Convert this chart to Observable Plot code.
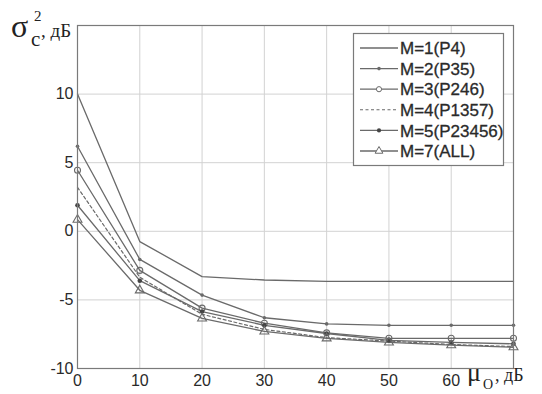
<!DOCTYPE html>
<html>
<head>
<meta charset="utf-8">
<script src="https://cdn.jsdelivr.net/npm/d3@7"></script>
<script src="https://cdn.jsdelivr.net/npm/@observablehq/plot@0.6"></script>
<style>
  html, body { margin: 0; padding: 0; background: #fff; }
  #chart svg { display: block; }
</style>
</head>
<body>
<div id="chart"></div>
<script>
// ---- data ----
const xValues = [0, 10, 20, 30, 40, 50, 60, 70];
const seriesNames = ["M=1(P4)", "M=2(P35)", "M=3(P246)", "M=4(P1357)", "M=5(P23456)", "M=7(ALL)"];
const m1 = [10, -0.75, -3.3, -3.55, -3.65, -3.65, -3.65, -3.65];
const m2 = [6.2, -2.05, -4.65, -6.3, -6.75, -6.85, -6.85, -6.85];
const m3 = [4.45, -2.85, -5.6, -6.7, -7.4, -7.8, -7.8, -7.8];
const m4 = [3.2, -3.35, -6.05, -7.15, -7.75, -8.0, -8.25, -8.4];
const m5 = [1.9, -3.6, -5.85, -6.85, -7.45, -7.95, -8.1, -8.2];
const m7 = [0.85, -4.3, -6.35, -7.3, -7.8, -8.1, -8.3, -8.45];
const xTicks = [0, 10, 20, 30, 40, 50, 60];
const yTicks = [-10, -5, 0, 5, 10];

const seriesValues = [m1, m2, m3, m4, m5, m7];
const data = seriesNames.flatMap((name, i) =>
  xValues.map((x, j) => ({series: name, idx: i, x, y: seriesValues[i][j]})));

const lineColor = "#6a6a6a";
const gridColor = "#d2d2d2";
const textColor = "#2a2a2a";

const marks = [
  Plot.gridX(d3.range(0, 71, 10), {stroke: gridColor, strokeOpacity: 1, strokeWidth: 1}),
  Plot.gridY(d3.range(-10, 16, 5), {stroke: gridColor, strokeOpacity: 1, strokeWidth: 1}),
  Plot.axisX(xTicks, {tickSize: 0, tickPadding: 6, fontSize: 16, fill: textColor, stroke: textColor, strokeWidth: 0.35, tickFormat: d => String(d), fontFamily: "Liberation Sans, Arial, sans-serif", label: null}),
  Plot.axisY(yTicks, {tickSize: 0, tickPadding: 4, fontSize: 16, fill: textColor, stroke: textColor, strokeWidth: 0.35, tickFormat: d => String(d), fontFamily: "Liberation Sans, Arial, sans-serif", label: null}),
  // lines
  Plot.line(data.filter(d => d.idx !== 3), {x: "x", y: "y", z: "series", stroke: lineColor, strokeWidth: 1.3}),
  Plot.line(data.filter(d => d.idx === 3), {x: "x", y: "y", stroke: lineColor, strokeWidth: 1.2, strokeDasharray: "3,2.5"}),
  // markers
  Plot.dot(data.filter(d => d.idx === 1), {x: "x", y: "y", r: 1.8, fill: lineColor, stroke: "none"}),
  Plot.dot(data.filter(d => d.idx === 2), {x: "x", y: "y", r: 3, fill: "none", stroke: lineColor, strokeWidth: 1.1}),
  Plot.dot(data.filter(d => d.idx === 4), {x: "x", y: "y", r: 2.3, fill: "#444", stroke: "none"}),
  Plot.dot(data.filter(d => d.idx === 5), {x: "x", y: "y", r: 3.3, symbol: "triangle", fill: "none", stroke: lineColor, strokeWidth: 1.1}),
  Plot.frame({stroke: "#7a7a7a", strokeWidth: 1.2})
];

const svg = Plot.plot({
  width: 542,
  height: 394,
  marginLeft: 77,
  marginRight: 29,
  marginTop: 25,
  marginBottom: 26,
  x: {domain: [0, 70], axis: null},
  y: {domain: [-10, 15], axis: null},
  style: {background: "#fff", color: "#333"},
  marks
});
document.getElementById("chart").appendChild(svg);

// ---- axis titles & legend (decorations) ----
const s = d3.select(svg);
const serif = "Liberation Serif, Times New Roman, serif";
const sans = "Liberation Sans, Arial, sans-serif";

// y title: σc², дБ
const yt = s.append("g").attr("fill", "#222").attr("font-family", serif).attr("text-anchor", "start");
yt.append("text").attr("x", 11).attr("y", 37).attr("font-size", 32).text("σ");
yt.append("text").attr("x", 31).attr("y", 46).attr("font-size", 21).text("c");
yt.append("text").attr("x", 34).attr("y", 21).attr("font-size", 15).text("2");
yt.append("text").attr("x", 41).attr("y", 37).attr("font-size", 19).text(", дБ");

// x title: μo, дБ
const xt = s.append("g").attr("fill", "#222").attr("font-family", serif).attr("text-anchor", "start");
xt.append("text").attr("x", 467).attr("y", 381).attr("font-size", 26).text("μ");
xt.append("text").attr("x", 483).attr("y", 389).attr("font-size", 14).text("O");
xt.append("text").attr("x", 495).attr("y", 381).attr("font-size", 18).text(", дБ");

// legend
const lg = s.append("g").attr("text-anchor", "start");
lg.append("rect").attr("x", 353.5).attr("y", 33.5).attr("width", 150).attr("height", 132)
  .attr("fill", "#fff").attr("stroke", "#7a7a7a").attr("stroke-width", 1.2);
const legY0 = 48, legDy = 20.6;
seriesNames.forEach((name, i) => {
  const yy = legY0 + i * legDy;
  const g = lg.append("g");
  g.append("line").attr("x1", 360).attr("x2", 398).attr("y1", yy).attr("y2", yy)
    .attr("stroke", lineColor).attr("stroke-width", i === 3 ? 1.1 : 1.3)
    .attr("stroke-dasharray", i === 3 ? "3,2.5" : null);
  if (i === 1) g.append("circle").attr("cx", 379).attr("cy", yy).attr("r", 1.8).attr("fill", lineColor);
  if (i === 2) g.append("circle").attr("cx", 379).attr("cy", yy).attr("r", 2.6).attr("fill", "#fff").attr("stroke", lineColor);
  if (i === 4) g.append("circle").attr("cx", 379).attr("cy", yy).attr("r", 2.1).attr("fill", "#444");
  if (i === 5) g.append("path").attr("d", d3.symbol(d3.symbolTriangle, 26)()).attr("transform", `translate(379,${yy})`)
    .attr("fill", "#fff").attr("stroke", lineColor);
  g.append("text").attr("x", 400).attr("y", yy).attr("dy", "0.36em").attr("font-family", sans)
    .attr("font-size", 17).attr("fill", textColor).attr("stroke", textColor).attr("stroke-width", 0.3).text(name);
});
</script>
</body>
</html>
